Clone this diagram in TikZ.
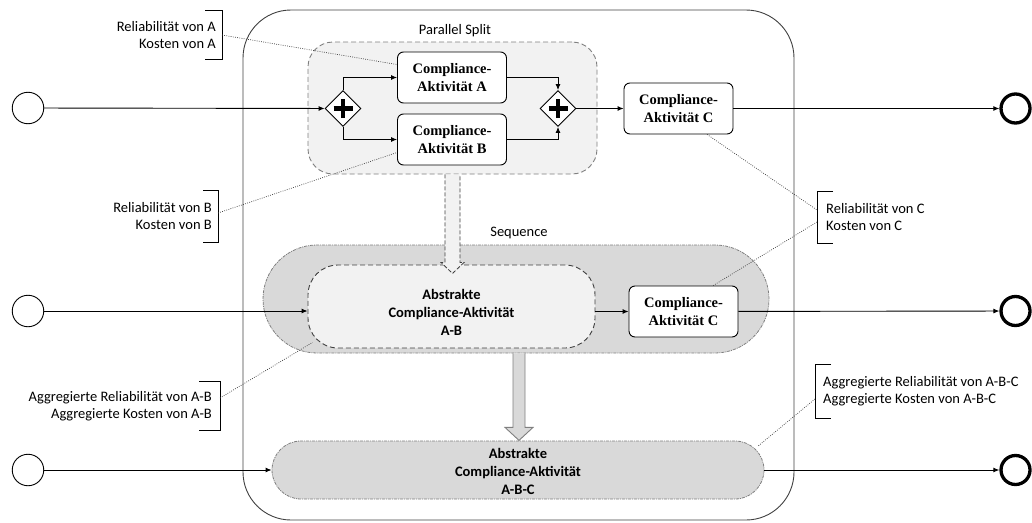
\documentclass[tikz,border=0pt]{standalone}
\usepackage{fontspec}
\setmainfont{Carlito}
\newfontfamily\actfont{Liberation Serif}
\usetikzlibrary{shapes.geometric,arrows.meta,calc}

\definecolor{lightfill}{HTML}{F2F2F2}
\definecolor{midfill}{HTML}{D9D9D9}
\definecolor{edgegray}{HTML}{7F7F7F}
\definecolor{linedark}{HTML}{404040}

\begin{document}
\begin{tikzpicture}[x=1pt,y=-1pt,
  every node/.style={font=\fontsize{14.5}{17}\selectfont},
  flow/.style={draw=black, line width=0.9pt, -{Latex[length=6pt,width=5pt]}},
  startev/.style={circle, draw, line width=0.9pt, minimum size=31.5pt, inner sep=0pt},
  endev/.style={circle, draw, line width=3.3pt, minimum size=29pt, inner sep=0pt},
  gateway/.style={diamond, draw, fill=white, line width=0.9pt, minimum width=36pt, minimum height=36pt, inner sep=0pt},
  plusbar/.style={line width=4.5pt},
  task/.style={draw, rounded corners=6pt, line width=0.9pt, fill=white, minimum width=109pt, minimum height=51pt,
    align=center, inner sep=0pt, font=\actfont\bfseries\fontsize{14.5}{18}\selectfont},
  abstext/.style={align=center, inner sep=0pt, font=\bfseries\fontsize{14.5}{18}\selectfont},
  pool/.style={draw=linedark, line width=0.9pt, rounded corners=48pt},
  splitbox/.style={draw=edgegray, fill=lightfill, line width=0.9pt, dash pattern=on 5pt off 3pt, rounded corners=25pt},
  seqbox/.style={draw=edgegray, fill=midfill, line width=0.8pt, dash pattern=on 3pt off 1pt on 1pt off 1pt},
  absbox/.style={draw=linedark, fill=lightfill, line width=0.9pt, dash pattern=on 5pt off 3pt},
  hollowarrow/.style={draw=linedark, fill=lightfill, line width=0.8pt, dash pattern=on 4pt off 2pt},
  greyarrow/.style={draw=edgegray, fill=midfill, line width=0.9pt},
  lbl/.style={inner ysep=0pt},
  bracket/.style={draw=black, line width=0.9pt},
  note/.style={draw=linedark, line width=0.7pt, dash pattern=on 0.8pt off 1.4pt}
]
\useasboundingbox (0,0) rectangle (1032,522);

% enclosing pool
\node[pool, minimum width=551pt, minimum height=510pt] (pool) at (518.5,265) {};

% group boxes
\node[splitbox, minimum width=289pt, minimum height=132pt] (ps) at (452.5,108) {};
\node (pslabel) at (455,31) {Parallel Split};

\node[seqbox, rounded corners=54pt, minimum width=506pt, minimum height=108pt] (seq) at (516,299) {};
\node (seqlabel) at (519,233) {Sequence};

\node[absbox, rounded corners=30pt, minimum width=287pt, minimum height=83pt] (ab) at (451.5,306.5) {};
\node[abstext] (abtxt) at (451.5,312.5) {Abstrakte\\Compliance-Aktivität\\A-B};

\node[seqbox, rounded corners=29pt, minimum width=492pt, minimum height=58pt] (abc) at (518,470) {};
\node[abstext] (abctxt) at (518,471) {Abstrakte\\Compliance-Aktivität\\A-B-C};

% refinement arrows
\draw[hollowarrow] ($(ps.south)+(-7.5,0)$) -- ++(0,88) -- ++(-4,0) -- ++(11.5,11) -- ++(11.5,-11) -- ++(-4,0) -- ++(0,-88);
\draw[greyarrow] ($(seq.south)+(-3,0)$) -- ++(0,74) -- ++(-8,0) -- ++(14,13) -- ++(14,-13) -- ++(-8,0) -- ++(0,-74);

% events
\node[startev] (s1) at (28,108) {};
\node[startev] (s2) at (28,311) {};
\node[startev] (s3) at (28,470) {};
\node[endev] (e1) at (1015.5,108.5) {};
\node[endev] (e2) at (1015.5,311) {};
\node[endev] (e3) at (1015.5,470) {};

% activities
\node[task] (A) at (452,77.5) {Compliance-\\Aktivität A};
\node[task] (B) at (452,139.5) {Compliance-\\Aktivität B};
\node[task] (C) at (678.5,108.5) {Compliance-\\Aktivität C};
\node[task] (c2) at (683.5,311.5) {Compliance-\\Aktivität C};

% gateways
\node[gateway] (g1) at (343,108.5) {};
\node[gateway] (g2) at (558,108.5) {};
\foreach \g in {g1,g2}{
  \draw[plusbar] ([xshift=-9.5pt]\g.center) -- ([xshift=9.5pt]\g.center)
                 ([yshift=-9.5pt]\g.center) -- ([yshift=9.5pt]\g.center);
}

% sequence flows
\draw[flow] (s1) -- (g1);
\draw[flow] (g1.north) |- (A.west);
\draw[flow] (g1.south) |- (B.west);
\draw[flow] (A.east) -| (g2.north);
\draw[flow] (B.east) -| (g2.south);
\draw[flow] (g2) -- (C);
\draw[flow] (C) -- (e1);

\draw[flow] (s2) -- (s2 -| ab.west);
\draw[flow] (ab.east |- c2.west) -- (c2.west);
\draw[flow] (c2) -- (e2);

\draw[flow] (s3) -- (abc);
\draw[flow] (abc) -- (e3);

% annotations
\node[lbl, anchor=east, align=right, minimum height=48pt, inner xsep=6pt] (la) at (222,35) {Reliabilität von A\\Kosten von A};
\draw[bracket] ([xshift=-17pt]la.north east) -- (la.north east) -- (la.south east) -- ++(-17,0);

\node[lbl, anchor=east, align=right, minimum height=51pt, inner xsep=6pt] (lb) at (218,216.5) {Reliabilität von B\\Kosten von B};
\draw[bracket] ([xshift=-15pt]lb.north east) -- (lb.north east) -- (lb.south east) -- ++(-15,0);

\node[lbl, anchor=west, align=left, minimum height=51pt, inner xsep=9pt] (lc) at (817,217.5) {Reliabilität von C\\Kosten von C};
\draw[bracket] ([xshift=16pt]lc.north west) -- (lc.north west) -- (lc.south west) -- ++(16,0);

\node[lbl, anchor=east, align=right, minimum height=48pt, inner xsep=8pt] (lab) at (220,406) {Aggregierte Reliabilität von A-B\\Aggregierte Kosten von A-B};
\draw[bracket] ([xshift=-21pt]lab.north east) -- (lab.north east) -- (lab.south east) -- ++(-21,0);

\node[lbl, anchor=west, align=left, minimum height=53pt, inner xsep=8pt] (labc) at (815,391.5) {Aggregierte Reliabilität von A-B-C\\Aggregierte Kosten von A-B-C};
\draw[bracket] ([xshift=16pt]labc.north west) -- (labc.north west) -- (labc.south west) -- ++(16,0);

\draw[note] (la.east) -- ($(A.north west)!0.25!(A.south west)$);
\draw[note] ([yshift=3.5pt]lb.east) -- ($(B.north west)!0.75!(B.south west)$);
\draw[note] ($(C.south west)!0.76!(C.south east)$) -- ([yshift=7.5pt]lc.west);
\draw[note] ([yshift=-4.5pt]lc.west) -- ($(c2.north west)!0.77!(c2.north east)$);
\draw[note] ([yshift=8pt]lab.east) -- ($(ab.south west)+(5,-6)$);
\draw[note] ([yshift=-7.5pt]labc.west) -- ($(abc.north east)+(-7,6)$);
\end{tikzpicture}
\end{document}
